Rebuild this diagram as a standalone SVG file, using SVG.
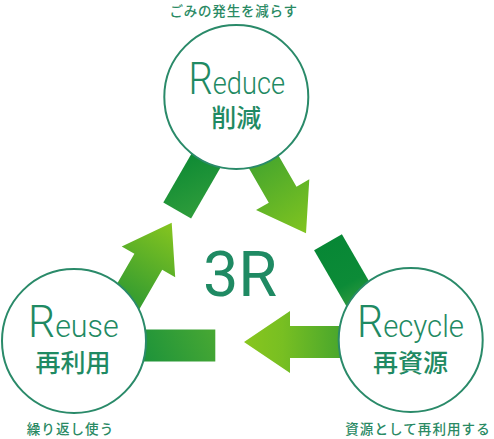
<svg xmlns="http://www.w3.org/2000/svg" width="494" height="439" viewBox="0 0 494 439">
<defs>
<style>
.c{fill:#fff;stroke:#2a8a69;stroke-width:2}
.en{font-family:Roboto,"Liberation Sans",sans-serif;font-weight:300;fill:#1f8a63}
.big{font-size:45px}
.rest{font-size:32px}
.jp{font-family:"Noto Sans CJK JP","Noto Sans",sans-serif;font-weight:500;fill:#1f8a63;text-anchor:middle}
.sm{font-family:"Noto Sans CJK JP","Noto Sans",sans-serif;font-weight:500;font-size:13.5px;fill:#2a8a64;text-anchor:middle}
</style>
<linearGradient id="h1" gradientUnits="userSpaceOnUse" x1="128" y1="292" x2="172" y2="223"><stop offset="0" stop-color="#3a9f2f"/><stop offset="1" stop-color="#86c51f"/></linearGradient>
<linearGradient id="b1" gradientUnits="userSpaceOnUse" x1="175" y1="160" x2="200" y2="215"><stop offset="0" stop-color="#0e8a34"/><stop offset="1" stop-color="#2f9d3b"/></linearGradient>
<linearGradient id="h2" gradientUnits="userSpaceOnUse" x1="262" y1="165" x2="306" y2="233"><stop offset="0" stop-color="#4aa82c"/><stop offset="1" stop-color="#80c420"/></linearGradient>
<linearGradient id="b2" gradientUnits="userSpaceOnUse" x1="328" y1="242" x2="358" y2="300"><stop offset="0" stop-color="#078735"/><stop offset="0.7" stop-color="#0c8b37"/><stop offset="1" stop-color="#2a983d"/></linearGradient>
<linearGradient id="h3" gradientUnits="userSpaceOnUse" x1="244" y1="342" x2="340" y2="342"><stop offset="0" stop-color="#88c61e"/><stop offset="0.4" stop-color="#78bf22"/><stop offset="1" stop-color="#4aa72c"/></linearGradient>
<linearGradient id="b3" gradientUnits="userSpaceOnUse" x1="147" y1="361" x2="215" y2="329"><stop offset="0" stop-color="#1f943a"/><stop offset="1" stop-color="#48a833"/></linearGradient>
</defs>
<g id="connectors">
<polygon fill="url(#h1)" points="171.7,222.7 175.2,277.3 162.2,269.7 117.2,347.6 89.4,331.6 134.4,253.7 121.7,246.5"/>
<polygon fill="url(#b1)" points="163.3,202.5 191.1,218.5 246.1,123.2 218.3,107.2"/>
<polygon fill="url(#h2)" points="306,233.3 256,210 268.8,202.65 223.8,124.7 251.5,108.7 296.5,186.65 309.3,179.3"/>
<polygon fill="url(#b2)" points="314.1,250.35 341.9,234.35 396.9,329.6 369.1,345.6"/>
<polygon fill="url(#h3)" points="244,342 290,311 290,326 370,326 370,358 290,358 290,373"/>
<rect fill="url(#b3)" x="100" y="329.5" width="115.3" height="32"/>
</g>
<g id="reduce">
<circle class="c" cx="236.3" cy="97" r="72"/>
<text class="en" transform="translate(188.5,94) scale(0.85,1)"><tspan class="big">R</tspan><tspan class="rest">educe</tspan></text>
<text class="jp" x="236.3" y="127" font-size="25">削減</text>
<text class="sm" x="233.7" y="15.8" letter-spacing="0.8">ごみの発生を減らす</text>
</g>
<g id="reuse">
<circle class="c" cx="74" cy="341" r="72"/>
<text class="en" transform="translate(28,337.3) scale(0.95,1)"><tspan class="big">R</tspan><tspan class="rest">euse</tspan></text>
<text class="jp" x="73" y="371.5" font-size="25">再利用</text>
<text class="sm" x="70.5" y="434" letter-spacing="1.1">繰り返し使う</text>
</g>
<g id="recycle">
<circle class="c" cx="410.7" cy="340" r="72"/>
<text class="en" transform="translate(357,336.7) scale(0.915,1)"><tspan class="big">R</tspan><tspan class="rest">ecycle</tspan></text>
<text class="jp" x="410.5" y="371.5" font-size="25">再資源</text>
<text class="sm" x="418" y="434" letter-spacing="1.1">資源として再利用する</text>
</g>
<g id="center">
<text x="240" y="296" font-family="Roboto,'Liberation Sans',sans-serif" font-size="63" fill="#1f8a63" text-anchor="middle">3R</text>
</g>
</svg>
